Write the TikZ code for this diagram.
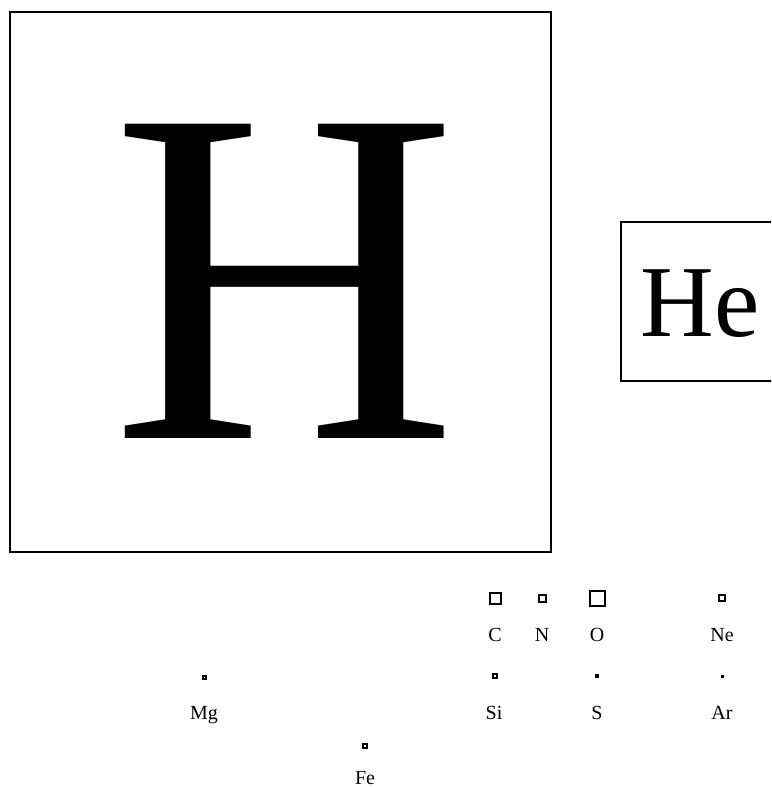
\documentclass[tikz,border=0pt]{standalone}
\usepackage{fontspec}
\setmainfont{Liberation Serif}
\begin{document}
\begin{tikzpicture}[x=1pt,y=-1pt,
  sq/.style={draw, line width=2pt, rectangle, inner sep=0pt, minimum size=#1},
  lab/.style={anchor=base, inner sep=0pt, font=\fontsize{20}{20}\selectfont}]
\clip (0,0) rectangle (771,787);
\fill[white] (0,0) rectangle (771,787);
% H
\draw[line width=1.8pt] (10,12) rectangle (551,552);
\node[anchor=base, inner sep=0pt, font=\fontsize{480}{480}\selectfont] (H) at (285,438) {H};
% He
\draw[line width=1.8pt] (621,222) rectangle (780,381);
\node[anchor=base, inner sep=0pt, font=\fontsize{102}{102}\selectfont] (He) at (700,336) {He};
% row 1
\node[sq=11pt] (sC) at (495.5,598) {};
\node[sq=7pt] (sN) at (542.5,598) {};
\node[sq=15pt] (sO) at (597,598) {};
\node[sq=6pt] (sNe) at (722,598) {};
\node[lab] (C) at (495,641) {C};
\node[lab] (N) at (542,641) {N};
\node[lab] (O) at (597,641) {O};
\node[lab] (Ne) at (722,641) {Ne};
% row 2
\node[sq=3pt] (sMg) at (204.5,677) {};
\node[sq=4pt] (sSi) at (495,676) {};
\node[sq=2pt] (sS) at (597,676) {};
\node[sq=1pt] (sAr) at (722,676) {};
\node[lab] (Mg) at (204,719) {Mg};
\node[lab] (Si) at (494,719) {Si};
\node[lab] (S) at (597,719) {S};
\node[lab] (Ar) at (722,719) {Ar};
% row 3
\node[sq=4pt] (sFe) at (365,746) {};
\node[lab] (Fe) at (365,784) {Fe};
\end{tikzpicture}
\end{document}
